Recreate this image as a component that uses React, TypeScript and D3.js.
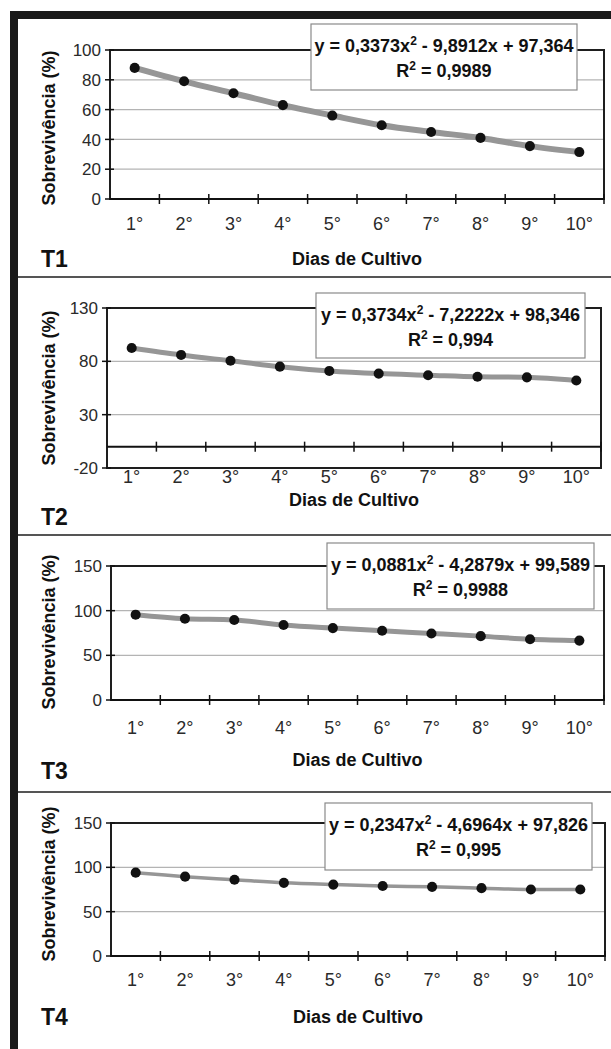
import React from "react";
import * as d3 from "d3";

// dias de cultivo
const days = ["1°", "2°", "3°", "4°", "5°", "6°", "7°", "8°", "9°", "10°"];

// sobrevivência (%) por tratamento
const t1Values = [88, 79, 71, 63, 56, 49.5, 45, 41, 35.5, 31.5];
const t2Values = [92.5, 86, 80.5, 75, 71, 68.5, 67, 65.5, 65, 62];
const t3Values = [95.5, 91, 89.5, 84, 80.5, 77.5, 74.5, 71.5, 68, 66.5];
const t4Values = [94, 89.5, 86, 82.5, 80.5, 79, 78, 76.5, 75, 75];

const t1Ticks = [0, 20, 40, 60, 80, 100];
const t2Ticks = [-20, 30, 80, 130];
const t3Ticks = [0, 50, 100, 150];
const t4Ticks = [0, 50, 100, 150];

// coeficientes das linhas de tendência [a, b, c, R²]
const t1Eq = ["0,3373", "9,8912", "97,364", "0,9989"];
const t2Eq = ["0,3734", "7,2222", "98,346", "0,994"];
const t3Eq = ["0,0881", "4,2879", "99,589", "0,9988"];
const t4Eq = ["0,2347", "4,6964", "97,826", "0,995"];

const panelNames = ["T1", "T2", "T3", "T4"];

const FONT = "'Liberation Sans', Arial, sans-serif";

type Layout = {
  top: number;
  bottom: number;
  left: number;
  right: number;
  cross: number;
  tickY: number;
  titleY: number;
  yTitleY: number;
  nameY: number;
  box: { x: number; y: number; w: number; h: number };
  lineW: number;
};

const layouts: Layout[] = [
  { top: 50, bottom: 199, left: 110, right: 604, cross: 0, tickY: 224, titleY: 259, yTitleY: 128, nameY: 259,
    box: { x: 311, y: 24, w: 266, h: 66 }, lineW: 6 },
  { top: 308, bottom: 468, left: 107, right: 601, cross: 0, tickY: 477, titleY: 500, yTitleY: 388, nameY: 517,
    box: { x: 316, y: 293, w: 269, h: 65 }, lineW: 5 },
  { top: 566, bottom: 700, left: 111, right: 604, cross: 0, tickY: 728, titleY: 760, yTitleY: 632, nameY: 771,
    box: { x: 327, y: 543, w: 267, h: 66 }, lineW: 5 },
  { top: 823, bottom: 956, left: 111, right: 605, cross: 0, tickY: 980, titleY: 1017, yTitleY: 884, nameY: 1017,
    box: { x: 325, y: 803, w: 267, h: 67 }, lineW: 3.5 },
];

const separators = [277, 535, 792];

function Panel({ values, ticks, eq, name, lay }: { values: number[]; ticks: number[]; eq: string[]; name: string; lay: Layout }) {
  const x = d3.scaleBand().domain(days).range([lay.left, lay.right]);
  const y = d3.scaleLinear().domain([ticks[0], ticks[ticks.length - 1]]).range([lay.bottom, lay.top]);
  const bw = x.bandwidth();
  const pts: [number, number][] = values.map((v, i) => [(x(days[i]) as number) + bw / 2, y(v)]);
  const line = d3.line().curve(d3.curveCatmullRom)(pts) || "";
  const marker = d3.symbol().type(d3.symbolCircle).size(80)() || "";
  const axisY = y(lay.cross);
  const bounds = days.map((d) => (x(d) as number) + bw);
  const cx = lay.box.x + lay.box.w / 2;

  return (
    <g>
      {ticks.slice(1, -1).map((t) => (
        <line key={t} x1={lay.left} x2={lay.right} y1={y(t)} y2={y(t)} stroke="#b4b4b4" strokeWidth={1.2} />
      ))}
      {/* moldura */}
      <rect x={lay.left} y={lay.top} width={lay.right - lay.left} height={lay.bottom - lay.top} fill="none" stroke="#1e1e1e" strokeWidth={2} />
      <line x1={lay.left} x2={lay.right} y1={axisY} y2={axisY} stroke="#111" strokeWidth={2} />
      {bounds.map((b, i) => (
        <line key={i} x1={b} x2={b} y1={axisY - 5} y2={axisY + 5} stroke="#111" strokeWidth={1.5} />
      ))}
      {ticks.map((t) => (
        <g key={t}>
          <line x1={lay.left - 5} x2={lay.left + 4} y1={y(t)} y2={y(t)} stroke="#111" strokeWidth={1.5} />
          <text x={lay.left - 9} y={y(t)} dy="0.36em" textAnchor="end" fontSize={17} fontFamily={FONT} fill="#2a2a2a">
            {t}
          </text>
        </g>
      ))}
      {days.map((d) => (
        <text key={d} x={(x(d) as number) + bw / 2} y={lay.tickY} dy="0.36em" textAnchor="middle" fontSize={18} fontFamily={FONT} fill="#2a2a2a">
          {d}
        </text>
      ))}
      <path d={line} fill="none" stroke="#969696" strokeWidth={lay.lineW} strokeLinejoin="round" />
      {pts.map((p, i) => (
        <path key={i} d={marker} transform={`translate(${p[0]},${p[1]})`} fill="#111" />
      ))}
      {/* equação */}
      <rect x={lay.box.x} y={lay.box.y} width={lay.box.w} height={lay.box.h} fill="#fff" stroke="#8a8a8a" strokeWidth={1.2} />
      <text x={cx} y={lay.box.y + 21.5} dy="0.36em" textAnchor="middle" fontSize={18} fontWeight="bold" fontFamily={FONT} fill="#111">
        {`y = ${eq[0]}x`}
        <tspan fontSize={12} dy="-0.6em">2</tspan>
        <tspan dy="0.4em">{` - ${eq[1]}x + ${eq[2]}`}</tspan>
      </text>
      <text x={cx} y={lay.box.y + 47} dy="0.36em" textAnchor="middle" fontSize={18} fontWeight="bold" fontFamily={FONT} fill="#111">
        R<tspan fontSize={12} dy="-0.6em">2</tspan>
        <tspan dy="0.4em">{` = ${eq[3]}`}</tspan>
      </text>
      {/* títulos */}
      <text x={(lay.left + lay.right) / 2} y={lay.titleY} dy="0.36em" textAnchor="middle" fontSize={18} fontWeight="bold" fontFamily={FONT} fill="#111">
        Dias de Cultivo
      </text>
      <text transform={`translate(49,${lay.yTitleY}) rotate(-90)`} dy="0.36em" textAnchor="middle" fontSize={18} fontWeight="bold" fontFamily={FONT} fill="#111">
        Sobrevivência (%)
      </text>
      <text x={41} y={lay.nameY} dy="0.36em" fontSize={23} fontWeight="bold" fontFamily={FONT} fill="#111">
        {name}
      </text>
    </g>
  );
}

export default function App() {
  const series = [t1Values, t2Values, t3Values, t4Values];
  const tickSets = [t1Ticks, t2Ticks, t3Ticks, t4Ticks];
  const eqs = [t1Eq, t2Eq, t3Eq, t4Eq];
  return (
    <svg width={611} height={1049} style={{ position: "absolute", left: 0, top: 0, background: "#fff" }}>
      <rect x={0} y={0} width={611} height={1049} fill="#fff" />
      <rect x={10} y={11} width={601} height={8} fill="#1a1a1a" />
      <rect x={10} y={11} width={8} height={1038} fill="#1a1a1a" />
      {separators.map((s) => (
        <line key={s} x1={18} x2={611} y1={s} y2={s} stroke="#555" strokeWidth={2} />
      ))}
      {series.map((v, i) => (
        <Panel key={i} values={v} ticks={tickSets[i]} eq={eqs[i]} name={panelNames[i]} lay={layouts[i]} />
      ))}
    </svg>
  );
}
